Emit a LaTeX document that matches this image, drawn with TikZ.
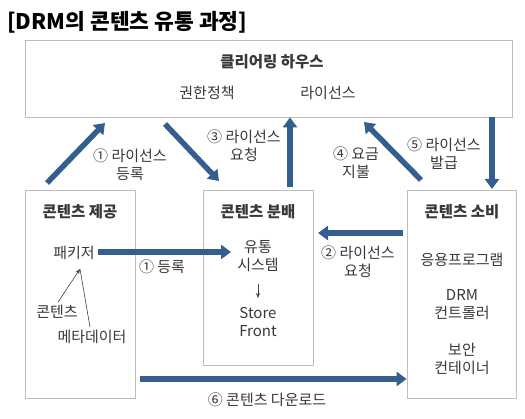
\documentclass[tikz,border=0pt]{standalone}
\usepackage{fontspec}
\setmainfont{Noto Sans CJK KR}
\usetikzlibrary{arrows.meta}
\definecolor{flowblue}{RGB}{52,94,142}
\definecolor{boxgray}{RGB}{190,190,190}
\begin{document}
\begin{tikzpicture}[x=1pt,y=-1pt]
      \tikzset{block/.style={draw=boxgray, line width=0.8pt, inner sep=0pt},
               txt/.style={text=black!78, font=\fontsize{15}{18}\selectfont, align=center, inner sep=0pt},
               head/.style={txt, font=\fontsize{15.5}{18}\selectfont\bfseries},
               flow/.style={draw=flowblue, line width=5.5pt, -{Triangle[width=14pt,length=10pt]}},
               thin/.style={draw=black!75, line width=0.6pt}}
      \useasboundingbox (0,0) rectangle (525,419);
%% Title
	\node[anchor=west, inner sep=0pt, font=\fontsize{21.5}{25}\selectfont\bfseries] (title) at (7,22) {[DRM의 콘텐츠 유통 과정]};
%% Boxes
      	\node[block, minimum width=487pt, minimum height=77pt] (house) at (268.5,78.5) {};
     	\node[block, minimum width=110pt, minimum height=208pt] (prov) at (80,294) {};
     	\node[block, minimum width=110pt, minimum height=175pt] (dist) at (258,277.5) {};
     	\node[block, minimum width=109pt, minimum height=208pt] (cons) at (461.5,294) {};
%% Texts in boxes
	%clearing house
	\node[head] (househd) at (272,62) {클리어링 하우스};
	\node[txt] (policy) at (207,93) {권한정책};
	\node[txt] (lic) at (328,93) {라이선스};
	%provider
	\node[head] (provhd) at (80,212) {콘텐츠 제공};
	\node[txt] (pack) at (74,253) {패키저};
	\node[txt] (cont) at (57,312) {콘텐츠};
	\node[txt] (meta) at (92,337) {메타데이터};
	%distributor
	\node[head] (disthd) at (258,212) {콘텐츠 분배};
	\node[txt] (sys) at (258,256) {유통\\시스템};
	\node[txt] (store) at (258,322) {Store\\Front};
	%consumer
	\node[head] (conshd) at (462,212) {콘텐츠 소비};
	\node[txt] (app) at (462,260) {응용프로그램};
	\node[txt] (ctrl) at (462,305) {DRM\\컨트롤러};
	\node[txt] (sec) at (462,359) {보안\\컨테이너};
%% Flow labels
	\node[txt] (l1) at (130,165) {① 라이선스\\등록};
	\node[txt] (l3) at (244,146) {③ 라이선스\\요청};
	\node[txt] (l4) at (356,163) {④ 요금\\지불};
	\node[txt] (l5) at (444,154) {⑤ 라이선스\\발급};
	\node[txt] (l1b) at (162,267) {① 등록};
	\node[txt] (l2) at (358,262) {② 라이선스\\요청};
	\node[txt] (l6) at (267,400) {⑥ 콘텐츠 다운로드};
%% Arrow ends
	\coordinate (a1s) at (47,183);   \coordinate (a1e) at (105,123);
	\coordinate (a3s) at (165,124);  \coordinate (a3e) at (219,181);
	\coordinate (a4s) at (421,180);  \coordinate (a4e) at (364,122);
	\coordinate (a5s) at (492,117);  \coordinate (a5e) at (492,189);
	\coordinate (tipin) at (80,269);
	\coordinate (sysb) at (258,284); \coordinate (storet) at (258,298);
%Edges
	%thick flows
		\path [flow] (dist.north -| 290,0) ++(0,-3) -- (house.south -| 290,0);
		\path [flow] (a1s) -- (a1e);
		\path [flow] (a3s) -- (a3e);
		\path [flow] (a4s) -- (a4e);
		\path [flow] (a5s) -- (a5e);
		\path [flow] (pack.east) ++(3,-1) -- (231,252);
		\path [flow] (cons.west) ++(-4,-61) -- (318,233);
		\path [flow] (140,379) -- (cons.west |- 0,379);
	%thin lines
		\path [thin, -{Stealth[length=5pt,width=4pt]}] (cont.north) ++(1,-3) -- (tipin);
		\path [thin] (meta.north) ++(-2,-3) -- (tipin);
		\path [thin, -{Stealth[length=5pt,width=4pt]}] (sysb) -- (storet);

\end{tikzpicture}
\end{document}
